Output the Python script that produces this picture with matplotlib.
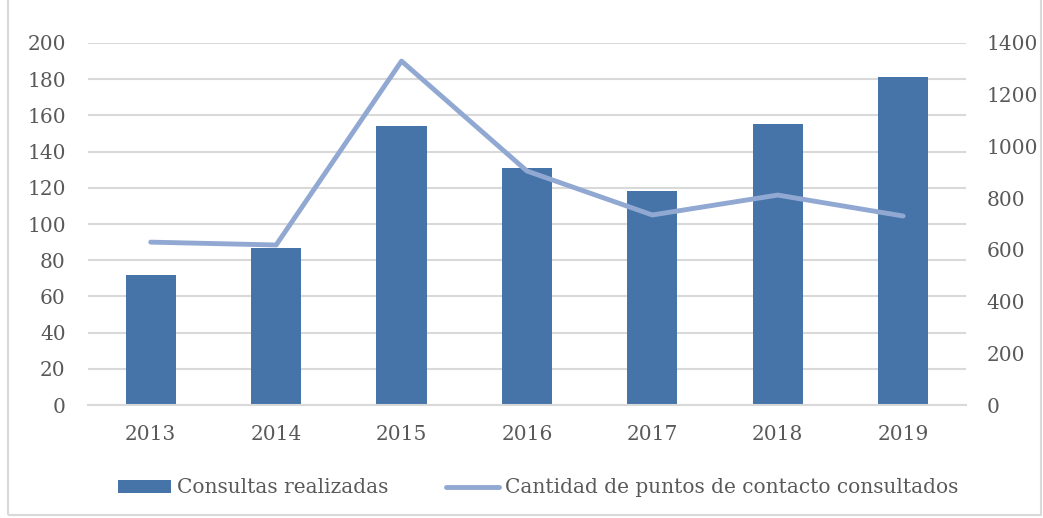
import matplotlib
matplotlib.use("Agg")
import matplotlib.pyplot as plt
from matplotlib.patches import Rectangle, Patch
from matplotlib.lines import Line2D

years = ["2013", "2014", "2015", "2016", "2017", "2018", "2019"]
consultas = [72, 87, 154, 131, 118, 155, 181]
puntos = [630, 619, 1330, 905, 735, 812, 731]

bar_color = "#4674A9"
line_color = "#91A9D2"
text_color = "#595959"
grid_color = "#D9D9D9"

plt.rcParams['font.family'] = ['DejaVu Serif']
fs = 14.5

fig = plt.figure(figsize=(10.43, 5.18), dpi=100)
ax = fig.add_axes([0.0844, 0.218, 0.8416, 0.699])
ax2 = ax.twinx()

x = list(range(len(years)))
ax.bar(x, consultas, width=0.4, color=bar_color, zorder=2)
ax2.plot(x, puntos, color=line_color, linewidth=3.5, solid_capstyle='round', zorder=3)

ax.set_xlim(-0.5, len(years) - 0.5)
ax.set_ylim(0, 200)
ax.set_yticks(range(0, 201, 20))
ax2.set_ylim(0, 1400)
ax2.set_yticks(range(0, 1401, 200))
ax.set_xticks(x)
ax.set_xticklabels(years)

ax.yaxis.grid(True, color=grid_color, linewidth=1.5, zorder=0)
ax.set_axisbelow(True)
for a in (ax, ax2):
    for s in a.spines.values():
        s.set_visible(False)
    a.tick_params(length=0, colors=text_color, labelsize=fs)
ax.spines['bottom'].set_visible(True)
ax.spines['bottom'].set_color(grid_color)
ax.spines['bottom'].set_linewidth(1.5)
ax.tick_params(axis='y', pad=16)
ax2.tick_params(axis='y', pad=15)
ax.tick_params(axis='x', pad=14)

handles = [Patch(facecolor=bar_color, edgecolor='none'),
           Line2D([0], [0], color=line_color, linewidth=3.5, solid_capstyle='round')]
labels = ["Consultas realizadas", "Cantidad de puntos de contacto consultados"]
fig.legend(handles, labels, loc='center', bbox_to_anchor=(0.516, 0.058), ncol=2,
           frameon=False, fontsize=fs, labelcolor=text_color, handlelength=2.6,
           handletextpad=0.3, columnspacing=2.9, handleheight=0.6)

fig.patches.append(Rectangle((0.008, 0.006), 0.99, 1.2, transform=fig.transFigure,
                             fill=False, edgecolor=grid_color, linewidth=1.5))

fig.savefig("out.png", dpi=100, facecolor="white")
